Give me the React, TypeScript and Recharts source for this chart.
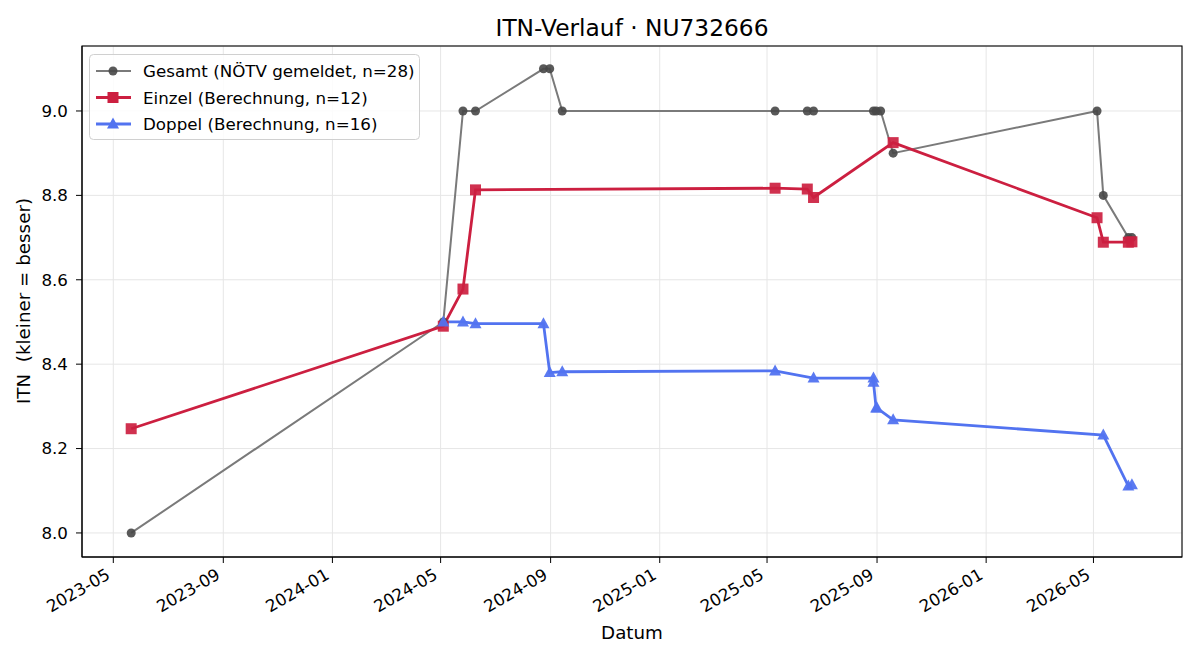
import { LineChart, Line, XAxis, YAxis, CartesianGrid, Customized } from "recharts";

const FONT = "DejaVu Sans, sans-serif";

// Datum -> Zeitstempel (UTC)
const d = (s: string) => Date.UTC(+s.slice(0, 4), +s.slice(5, 7) - 1, +s.slice(8, 10));

const gesamtDates = [
  "2023-05-21", "2024-05-04", "2024-05-26", "2024-06-09", "2024-08-24", "2024-08-31",
  "2024-09-14", "2025-05-10", "2025-06-15", "2025-06-22", "2025-08-28", "2025-08-31",
  "2025-09-05", "2025-09-19", "2026-05-05", "2026-05-12", "2026-06-09", "2026-06-13",
];
const gesamtValues = [8.0, 8.5, 9.0, 9.0, 9.1, 9.1, 9.0, 9.0, 9.0, 9.0, 9.0, 9.0, 9.0, 8.9, 9.0, 8.8, 8.7, 8.7];

const einzelDates = [
  "2023-05-21", "2024-05-04", "2024-05-26", "2024-06-09", "2025-05-10", "2025-06-15",
  "2025-06-22", "2025-09-19", "2026-05-05", "2026-05-12", "2026-06-09", "2026-06-13",
];
const einzelValues = [8.247, 8.49, 8.578, 8.813, 8.817, 8.815, 8.795, 8.925, 8.747, 8.689, 8.689, 8.69];

const doppelDates = [
  "2024-05-04", "2024-05-26", "2024-06-09", "2024-08-24", "2024-08-31", "2024-09-14",
  "2025-05-10", "2025-06-22", "2025-08-28", "2025-08-28", "2025-08-31", "2025-09-01",
  "2025-09-19", "2026-05-12", "2026-06-09", "2026-06-13",
];
const doppelValues = [8.5, 8.5, 8.496, 8.496, 8.38, 8.382, 8.384, 8.367, 8.367, 8.357, 8.296, 8.296, 8.268, 8.232, 8.111, 8.114];

const xTicks = [
  "2023-05-01", "2023-09-01", "2024-01-01", "2024-05-01", "2024-09-01",
  "2025-01-01", "2025-05-01", "2025-09-01", "2026-01-01", "2026-05-01",
];
const yTicks = [8.0, 8.2, 8.4, 8.6, 8.8, 9.0];

const toSeries = (dates: string[], values: number[]) => dates.map((s, i) => ({ t: d(s), v: values[i] }));
const gesamt = toSeries(gesamtDates, gesamtValues);
const einzel = toSeries(einzelDates, einzelValues);
const doppel = toSeries(doppelDates, doppelValues);

const GREY_LINE = "#7a7a7a";
const GREY_DOT = "#474747";
const RED = "#cc1f40";
const BLUE = "#5273f0";

const fmtMonth = (t: number) => {
  const dt = new Date(t);
  return `${dt.getUTCFullYear()}-${String(dt.getUTCMonth() + 1).padStart(2, "0")}`;
};

const CircleDot = (p: any) => <circle key={p.index} cx={p.cx} cy={p.cy} r={4.5} fill={GREY_DOT} fillOpacity={0.9} />;
const SquareDot = (p: any) => (
  <rect key={p.index} x={p.cx - 5.5} y={p.cy - 5.5} width={11} height={11} fill={RED} fillOpacity={0.92} />
);
const TriDot = (p: any) => (
  <path key={p.index} d={`M${p.cx},${p.cy - 6.5} L${p.cx + 6},${p.cy + 4.5} L${p.cx - 6},${p.cy + 4.5} Z`} fill={BLUE} fillOpacity={0.95} />
);

const XTick = ({ x, y, payload }: any) => (
  <text x={x - 2} y={y + 13} textAnchor="end" fontSize={16.7} fontFamily={FONT} fill="#000"
    transform={`rotate(-30, ${x - 2}, ${y + 13})`}>
    {fmtMonth(payload.value)}
  </text>
);

const legendRows = [
  { label: "Gesamt (NÖTV gemeldet, n=28)", kind: "circle" },
  { label: "Einzel (Berechnung, n=12)", kind: "square" },
  { label: "Doppel (Berechnung, n=16)", kind: "tri" },
];

const Overlay = () => (
  <g fontFamily={FONT}>
    <text x={632} y={36} textAnchor="middle" fontSize={23.3} fill="#000">ITN-Verlauf · NU732666</text>
    <text x={632} y={639} textAnchor="middle" fontSize={18.3} fill="#000">Datum</text>
    <text x={30} y={301} textAnchor="middle" fontSize={18.3} fill="#000" style={{ whiteSpace: "pre" }}
      transform="rotate(-90, 30, 301)">ITN  (kleiner = besser)</text>
    <rect x={82} y={46} width={1100} height={511} fill="none" stroke="#000" strokeWidth={1.1} />
    <rect x={89.5} y={54.5} width={330} height={85} rx={4} fill="#fff" fillOpacity={0.85} stroke="#d0d0d0" />
    {legendRows.map((r, i) => {
      const cy = 71 + i * 26.5;
      const color = r.kind === "circle" ? GREY_LINE : r.kind === "square" ? RED : BLUE;
      return (
        <g key={r.label}>
          <line x1={96} x2={131} y1={cy} y2={cy} stroke={color} strokeWidth={r.kind === "circle" ? 2 : 2.8} />
          {r.kind === "circle" && <circle cx={113} cy={cy} r={4.5} fill={GREY_DOT} fillOpacity={0.9} />}
          {r.kind === "square" && <rect x={107.5} y={cy - 5.5} width={11} height={11} fill={RED} />}
          {r.kind === "tri" && <path d={`M113,${cy - 6.5} L119,${cy + 4.5} L107,${cy + 4.5} Z`} fill={BLUE} />}
          <text x={143} y={cy + 6} fontSize={16.7} fill="#000">{r.label}</text>
        </g>
      );
    })}
  </g>
);

export default function App() {
  return (
    <div style={{ position: "absolute", left: 0, top: 0, background: "#fff" }}>
      <LineChart width={1200} height={660} margin={{ top: 46, right: 18, bottom: 0, left: 0 }}>
        <CartesianGrid stroke="#e6e6e6" strokeWidth={1} />
        <XAxis
          dataKey="t"
          type="number"
          domain={[d("2023-03-27"), d("2026-08-08")]}
          ticks={xTicks.map(d)}
          interval={0}
          tick={<XTick />}
          tickSize={6}
          tickMargin={2}
          height={103}
          stroke="#000"
          allowDataOverflow
        />
        <YAxis
          dataKey="v"
          type="number"
          domain={[7.943, 9.154]}
          ticks={yTicks}
          interval={0}
          tickFormatter={(v: number) => v.toFixed(1)}
          tick={{ fontSize: 16.7, fontFamily: FONT, fill: "#000" }}
          tickSize={6}
          tickMargin={8}
          width={82}
          stroke="#000"
          allowDataOverflow
        />
        <Line data={gesamt} dataKey="v" stroke={GREY_LINE} strokeWidth={2} dot={CircleDot} activeDot={false} isAnimationActive={false} />
        <Line data={einzel} dataKey="v" stroke={RED} strokeWidth={2.8} dot={SquareDot} activeDot={false} isAnimationActive={false} />
        <Line data={doppel} dataKey="v" stroke={BLUE} strokeWidth={2.8} dot={TriDot} activeDot={false} isAnimationActive={false} />
        <Customized component={Overlay} />
      </LineChart>
    </div>
  );
}
